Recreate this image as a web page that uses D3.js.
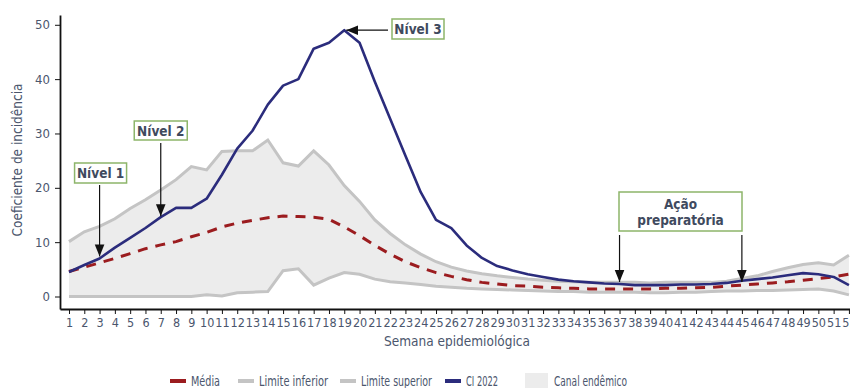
<!DOCTYPE html>
<html><head><meta charset="utf-8">
<script src="https://cdn.jsdelivr.net/npm/d3@7"></script>
<style>
body{margin:0;background:#fff;}
text{font-family:'Liberation Sans Narrow','DejaVu Sans Condensed','Roboto Condensed',sans-serif;}
</style></head><body>
<svg id="c" width="850" height="388"></svg>
<script>
const weeks = d3.range(1, 53);
const ci2022 = [4.5,5.8,7.0,9.0,10.8,12.6,14.6,16.3,16.3,18.0,22.4,27.2,30.5,35.3,38.8,40.0,45.6,46.7,49.0,46.7,39.5,32.7,25.9,19.2,14.1,12.6,9.4,7.1,5.6,4.8,4.1,3.6,3.1,2.8,2.6,2.4,2.3,2.1,2.1,2.1,2.2,2.2,2.3,2.5,2.9,3.2,3.5,3.9,4.3,4.1,3.6,2.1];
const media = [4.6,5.4,6.2,7.0,7.9,8.8,9.5,10.1,11.0,11.8,12.8,13.5,14.0,14.5,14.8,14.7,14.6,14.2,12.8,11.2,9.4,7.8,6.4,5.3,4.4,3.7,3.1,2.6,2.3,2.0,1.9,1.7,1.6,1.5,1.4,1.4,1.4,1.4,1.4,1.5,1.5,1.6,1.7,1.9,2.1,2.3,2.5,2.7,3.0,3.3,3.6,4.1];
const limSup = [10.1,11.9,12.9,14.3,16.2,17.8,19.6,21.5,23.9,23.3,26.7,26.8,26.8,28.8,24.6,24.0,26.8,24.2,20.4,17.5,14.1,11.6,9.5,7.8,6.4,5.4,4.7,4.2,3.8,3.5,3.2,3.0,2.8,2.7,2.6,2.6,2.6,2.6,2.5,2.6,2.6,2.6,2.6,2.8,3.3,3.8,4.6,5.3,5.9,6.2,5.8,7.6];
const limInf = [0,0,0,0,0,0,0,0,0,0.3,0.1,0.7,0.8,0.9,4.75,5.1,2.1,3.4,4.4,4.1,3.2,2.7,2.5,2.2,1.9,1.7,1.5,1.4,1.3,1.2,1.1,1.0,0.9,0.9,0.8,0.8,0.8,0.8,0.7,0.7,0.8,0.8,0.9,1.0,1.0,1.1,1.1,1.2,1.3,1.4,1.0,0.3];
const yTicks = [0,10,20,30,40,50];
const annotations = [
  {label:["Nível 1"], week:3, value:7.0},
  {label:["Nível 2"], week:7, value:14.6},
  {label:["Nível 3"], week:19, value:49.0},
  {label:["Ação","preparatória"], weeks:[37,45], value:2.3}
];
const legendItems = [
  {name:"Média", type:"line", color:"#9b1c1f"},
  {name:"Limite inferior", type:"line", color:"#c4c4c4"},
  {name:"Limite superior", type:"line", color:"#c4c4c4"},
  {name:"CI 2022", type:"line", color:"#2b2c7c"},
  {name:"Canal endêmico", type:"rect", color:"#ececec"}
];

const svg = d3.select("#c");
const x = d3.scaleLinear().domain([0.412, 52.07]).range([60, 850]);
const y = d3.scaleLinear().domain([-2.3, 51.8]).range([309, 15]);
const textCol = "#4b566d";

svg.append("defs").append("marker").attr("id","arrB").attr("viewBox","0 0 10 10")
  .attr("refX",10).attr("refY",5).attr("markerWidth",12).attr("markerHeight",12)
  .attr("markerUnits","userSpaceOnUse").attr("orient","auto")
  .append("path").attr("d","M0,1L10,5L0,9z").attr("fill","#111");

// band
const band = d3.area().x((d,i)=>x(weeks[i])).y0((d,i)=>y(limInf[i])).y1((d,i)=>y(limSup[i]));
svg.append("path").datum(weeks).attr("d", band).attr("fill","#ececec");

const line = arr => d3.line().x((d,i)=>x(weeks[i])).y(d=>y(d))(arr);
svg.append("path").attr("d", line(limInf)).attr("fill","none").attr("stroke","#c4c4c4").attr("stroke-width",3);
svg.append("path").attr("d", line(limSup)).attr("fill","none").attr("stroke","#c4c4c4").attr("stroke-width",3);
svg.append("path").attr("d", line(media)).attr("fill","none").attr("stroke","#9b1c1f").attr("stroke-width",3).attr("stroke-dasharray","10,8");
svg.append("path").attr("d", line(ci2022)).attr("fill","none").attr("stroke","#2b2c7c").attr("stroke-width",2.6).attr("stroke-linejoin","round");

// axes
const yAxis = svg.append("g").attr("transform","translate(60,0)")
  .call(d3.axisLeft(y).tickValues(yTicks).tickSize(5).tickPadding(5).tickSizeOuter(0));
const xAxis = svg.append("g").attr("transform","translate(0,309)")
  .call(d3.axisBottom(x).tickValues(weeks).tickFormat(d3.format("d")).tickSize(5).tickPadding(4).tickSizeOuter(0));
[yAxis,xAxis].forEach(g=>{
  g.select(".domain").attr("stroke","#111").attr("stroke-width",1.8);
  g.selectAll(".tick line").attr("stroke","#111").attr("stroke-width",1);
  g.selectAll(".tick text").attr("fill",textCol).attr("font-size","13px");
});
xAxis.selectAll(".tick text").attr("font-size","12.5px");

svg.append("text").attr("transform","translate(22,160) rotate(-90)").attr("text-anchor","middle")
  .attr("fill",textCol).attr("font-size","13.5px").text("Coeficiente de incidência");
svg.append("text").attr("x",457).attr("y",346).attr("text-anchor","middle")
  .attr("fill",textCol).attr("font-size","13.5px").text("Semana epidemiológica");

// annotations
function box(cx, cy, lines, w, h){
  const g = svg.append("g");
  g.append("rect").attr("x",cx-w/2).attr("y",cy-h/2).attr("width",w).attr("height",h)
    .attr("fill","#fff").attr("stroke","#8db56a").attr("stroke-width",1.5);
  lines.forEach((t,i)=>{
    g.append("text").attr("x",cx).attr("y",cy + (i-(lines.length-1)/2)*16 + 5)
      .attr("text-anchor","middle").attr("font-weight","bold").attr("font-size","13.5px")
      .attr("fill","#3f4a5e").text(t);
  });
}
function arrow(x1,y1,x2,y2){
  svg.append("line").attr("x1",x1).attr("x2",x2).attr("y1",y1).attr("y2",y2)
    .attr("stroke","#111").attr("stroke-width",1.2).attr("marker-end","url(#arrB)");
}
let a = annotations[0];
box(x(a.week)+1, 173, a.label, 52, 20);
arrow(x(a.week),185,x(a.week),y(a.value)-2);
a = annotations[1];
box(x(a.week), 130.5, a.label, 53, 19);
arrow(x(a.week),143,x(a.week),y(a.value)-1);
a = annotations[2];
box(418, 29, a.label, 52, 20);
arrow(388,y(a.value),x(a.week)+2,y(a.value));
a = annotations[3];
box(680.5, 211.5, a.label, 123, 39);
a.weeks.forEach(w=> arrow(x(w),235,x(w),y(a.value)-2));

// legend
const lx = [170, 238, 340, 445, 525];
const lw = [29, 69, 71, 32, 73];
legendItems.forEach((it,i)=>{
  const g = svg.append("g");
  let tx;
  if(it.type==="line"){
    g.append("line").attr("x1",lx[i]).attr("x2",lx[i]+16).attr("y1",381).attr("y2",381)
      .attr("stroke",it.color).attr("stroke-width",4);
    tx = lx[i]+21;
  } else {
    g.append("rect").attr("x",lx[i]).attr("y",373).attr("width",23).attr("height",16).attr("fill",it.color);
    tx = lx[i]+29;
  }
  g.append("text").attr("x",tx).attr("y",386).attr("fill",textCol).attr("font-size","14px")
    .attr("textLength",lw[i]).attr("lengthAdjust","spacingAndGlyphs").text(it.name);
});
</script></body></html>
